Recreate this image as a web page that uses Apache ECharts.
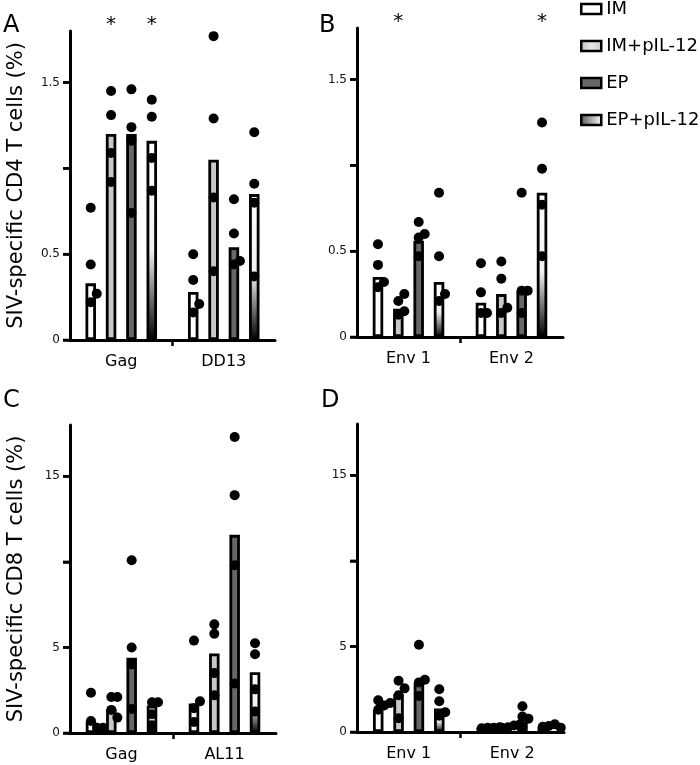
<!DOCTYPE html>
<html><head><meta charset="utf-8">
<script src="https://cdn.jsdelivr.net/npm/echarts@6/dist/echarts.min.js"></script>
<style>html,body{margin:0;padding:0;background:#fff}#c{width:700px;height:765px}</style>
</head><body><div id="c"></div>
<script>
// ---------- DATA ----------
const treatments = ['IM', 'IM+pIL-12', 'EP', 'EP+pIL-12'];
const catsA = ['Gag', 'DD13'];
const catsB = ['Env 1', 'Env 2'];
const catsC = ['Gag', 'AL11'];
const catsD = ['Env 1', 'Env 2'];

// bar heights: [treatment][category]
const barsA = [[0.33, 0.28], [1.20, 1.05], [1.20, 0.54], [1.16, 0.85]];
const barsB = [[0.35, 0.20], [0.165, 0.25], [0.56, 0.27], [0.32, 0.84]];
const barsC = [[0.67, 1.72], [1.40, 4.65], [4.40, 11.58], [1.60, 3.55]];
const barsD = [[1.29, 0.25], [2.20, 0.25], [2.89, 0.55], [1.37, 0.30]];

// individual animals: [treatment][category][animal]
const dotsA = [
  [[0.77, 0.44, 0.22, 0.27], [0.50, 0.35, 0.16, 0.21]],
  [[1.45, 1.31, 1.09, 0.92], [1.77, 1.29, 0.83, 0.40]],
  [[1.46, 1.24, 1.16, 0.74], [0.82, 0.62, 0.44, 0.46]],
  [[1.40, 1.30, 1.06, 0.87], [1.21, 0.91, 0.80, 0.37]]
];
const dotsB = [
  [[0.54, 0.42, 0.29, 0.32], [0.43, 0.26, 0.14, 0.14]],
  [[0.21, 0.13, 0.25, 0.15], [0.44, 0.34, 0.14, 0.17]],
  [[0.67, 0.58, 0.60, 0.47], [0.84, 0.27, 0.27, 0.14]],
  [[0.84, 0.47, 0.21, 0.25], [1.25, 0.98, 0.77, 0.47]]
];
const dotsC = [
  [[2.35, 0.70, 0.30, 0.30], [5.40, 1.45, 0.65, 1.85]],
  [[2.10, 2.10, 1.35, 0.90], [5.80, 6.35, 3.50, 2.20]],
  [[10.10, 5.00, 4.00, 1.40], [17.30, 13.90, 9.80, 2.90]],
  [[1.80, 1.80, 1.10, 0.45], [5.25, 4.60, 2.55, 1.25]]
];
const dotsD = [
  [[1.30, 1.55, 1.70, 1.85], [0.22, 0.25, 0.25, 0.28]],
  [[3.00, 2.55, 2.15, 0.80], [0.25, 0.28, 0.38, 0.45]],
  [[5.10, 2.90, 3.05, 2.10], [1.50, 0.90, 0.30, 0.78]],
  [[2.50, 1.80, 0.95, 1.15], [0.30, 0.35, 0.45, 0.25]]
];

// significance stars: [category, treatment]
const sigA = [[0, 1], [0, 3]];
const sigB = [[0, 1], [1, 3]];

// y tick values and labelled ticks
const ticksAB = [0, 0.5, 1, 1.5];
const labelsAB = [0, 0.5, 1.5];
const ticksCD = [0, 5, 10, 15];
const labelsCD = [0, 5, 15];
const yTitleCD4 = 'SIV-specific CD4 T cells (%)';
const yTitleCD8 = 'SIV-specific CD8 T cells (%)';

// ---------- STYLE / LAYOUT ----------
const F = 'DejaVu Sans';
const BAR_W = 10.5, STEP = 20.35, BAR_GAP = STEP / BAR_W - 1;
const DOT_R = 5, JIT = 6, MINSEP = 9.2, TICK_LEN = 7;
const fills = [
  '#ffffff',
  '#c8c8c8',
  '#676767',
  {type: 'linear', x: 0, y: 0, x2: 0, y2: 1, colorStops: [
    {offset: 0, color: '#ffffff'}, {offset: 0.55, color: '#f0f0f0'}, {offset: 1, color: '#000000'}]}
];
const legendFills = [
  '#ffffff',
  {type: 'linear', x: 0, y: 0, x2: 1, y2: 0, colorStops: [
    {offset: 0, color: '#bdbdbd'}, {offset: 0.5, color: '#e8e8e8'}, {offset: 1, color: '#c8c8c8'}]},
  '#676767',
  {type: 'linear', x: 0, y: 0, x2: 1, y2: 0, colorStops: [
    {offset: 0, color: '#555'}, {offset: 1, color: '#ffffff'}]}
];

const panels = [
  {cats: catsA, bars: barsA, dots: dotsA, sig: sigA, max: 1.8, interval: 0.5, ticks: ticksAB, labels: labelsAB, name: yTitleCD4,
   grid: {left: 70, top: 31, width: 205, height: 309}},
  {cats: catsB, bars: barsB, dots: dotsB, sig: sigB, max: 1.8, interval: 0.5, ticks: ticksAB, labels: labelsAB, name: '',
   grid: {left: 357, top: 28, width: 206, height: 309}},
  {cats: catsC, bars: barsC, dots: dotsC, sig: [], max: 18, interval: 5, ticks: ticksCD, labels: labelsCD, name: yTitleCD8,
   grid: {left: 70, top: 425, width: 206, height: 308}},
  {cats: catsD, bars: barsD, dots: dotsD, sig: [], max: 18, interval: 5, ticks: ticksCD, labels: labelsCD, name: '',
   grid: {left: 357, top: 424, width: 207, height: 308}}
];

function barOffset(t) { return (t - (treatments.length - 1) / 2) * STEP; }
function jitterOffsets(ys) {
  const placed = [], res = [];
  const cands = [0, JIT, 2 * JIT, 3 * JIT, -JIT];
  ys.forEach(y => {
    let off = cands[cands.length - 1];
    for (const c of cands) {
      if (!placed.some(p => Math.abs(p.x - c) < JIT * 0.5 && Math.abs(p.y - y) < MINSEP)) { off = c; break; }
    }
    placed.push({x: off, y: y}); res.push(off);
  });
  return res;
}

const grids = [], xAxes = [], yAxes = [], series = [];
panels.forEach((P, g) => {
  grids.push(Object.assign({outerBoundsMode: 'none', containLabel: false}, P.grid));
  xAxes.push({
    type: 'category', gridIndex: g, data: P.cats,
    axisLine: {lineStyle: {color: '#000', width: 3}},
    axisTick: {show: false},
    axisLabel: {fontSize: 16, fontFamily: F, color: '#000', margin: 14}
  });
  xAxes.push({
    type: 'value', gridIndex: g, min: 0, max: 2, interval: 1, position: 'bottom',
    axisLine: {show: false}, axisLabel: {show: false}, splitLine: {show: false},
    axisTick: {show: true, customValues: [1], length: 6, lineStyle: {color: '#000', width: 2.5}}
  });
  yAxes.push({
    type: 'value', gridIndex: g, min: 0, max: P.max, interval: P.interval, position: 'left',
    name: P.name, nameLocation: 'middle', nameGap: 43,
    nameTextStyle: {fontSize: 21, fontFamily: F, color: '#000'},
    axisLine: {show: true, lineStyle: {color: '#000', width: 3}},
    axisTick: {show: true, customValues: P.ticks, length: TICK_LEN, lineStyle: {color: '#000', width: 2.5}},
    axisLabel: {customValues: P.labels, fontSize: 12, fontFamily: F, color: '#111', margin: 10},
    splitLine: {show: false}
  });
  treatments.forEach((name, t) => {
    series.push({
      type: 'bar', name: name, xAxisIndex: 2 * g, yAxisIndex: g,
      data: P.bars[t], barWidth: BAR_W, barGap: (BAR_GAP * 100).toFixed(1) + '%',
      itemStyle: {color: fills[t], borderColor: '#000', borderWidth: 2.8},
      emphasis: {disabled: true}, silent: true, z: 2
    });
  });
  // y-axis tick marks, placed through the y scale at the left edge of the category band
  series.push({
    type: 'custom', xAxisIndex: 2 * g, yAxisIndex: g, z: 4, silent: true, clip: false,
    encode: {x: 0, y: 1},
    data: P.ticks.map(v => [0, v]),
    renderItem: (params, api) => {
      const p = api.coord([0, api.value(1)]);
      const xL = p[0] - api.size([1, 0])[0] / 2;
      return {type: 'line', shape: {x1: xL - TICK_LEN, y1: p[1], x2: xL, y2: p[1]},
        style: {stroke: '#000', lineWidth: 2.5}};
    }
  });
  const dotData = [];
  P.dots.forEach((perCat, t) => perCat.forEach((vals, c) => vals.forEach((v, k) => dotData.push([c, v, t, k]))));
  series.push({
    type: 'custom', xAxisIndex: 2 * g, yAxisIndex: g, z: 5, silent: true, clip: false,
    encode: {x: 0, y: 1},
    data: dotData,
    renderItem: (params, api) => {
      const c = api.value(0), v = api.value(1), t = api.value(2), k = api.value(3);
      const ys = P.dots[t][c].map(u => api.coord([c, u])[1]);
      const offs = jitterOffsets(ys);
      const p = api.coord([c, v]);
      return {type: 'circle', shape: {cx: p[0] + barOffset(t) + offs[k], cy: p[1], r: DOT_R}, style: {fill: '#000'}};
    }
  });
  if (P.sig.length) {
    series.push({
      type: 'custom', xAxisIndex: 2 * g, yAxisIndex: g, z: 5, silent: true, clip: false,
      encode: {x: 0, y: 1},
      data: P.sig,
      renderItem: (params, api) => {
        const c = api.value(0), t = api.value(1);
        const p = api.coord([c, P.max]);
        return {type: 'text', style: {text: '*', x: p[0] + barOffset(t), y: p[1] - 6,
          align: 'center', verticalAlign: 'middle', fontSize: 20, fontFamily: F, fill: '#000'}};
      }
    });
  }
});

const chart = echarts.init(document.getElementById('c'), null, {renderer: 'canvas'});
chart.setOption({
  animation: false,
  backgroundColor: '#fff',
  legend: {
    orient: 'vertical', left: 580, top: 0, padding: 0, itemWidth: 20, itemHeight: 10, itemGap: 19,
    icon: 'rect', selectedMode: false,
    textStyle: {fontSize: 18, fontFamily: F, color: '#000'},
    data: treatments.map((n, t) => ({name: n, itemStyle: {color: legendFills[t], borderColor: '#000', borderWidth: 2.5}}))
  },
  grid: grids, xAxis: xAxes, yAxis: yAxes, series: series,
  graphic: [
    {type: 'text', x: 3, y: 14, style: {text: 'A', fontSize: 24, fontFamily: F, fill: '#000'}},
    {type: 'text', x: 319, y: 14, style: {text: 'B', fontSize: 24, fontFamily: F, fill: '#000'}},
    {type: 'text', x: 3, y: 389, style: {text: 'C', fontSize: 24, fontFamily: F, fill: '#000'}},
    {type: 'text', x: 321, y: 389, style: {text: 'D', fontSize: 24, fontFamily: F, fill: '#000'}}
  ]
});
</script></body></html>
